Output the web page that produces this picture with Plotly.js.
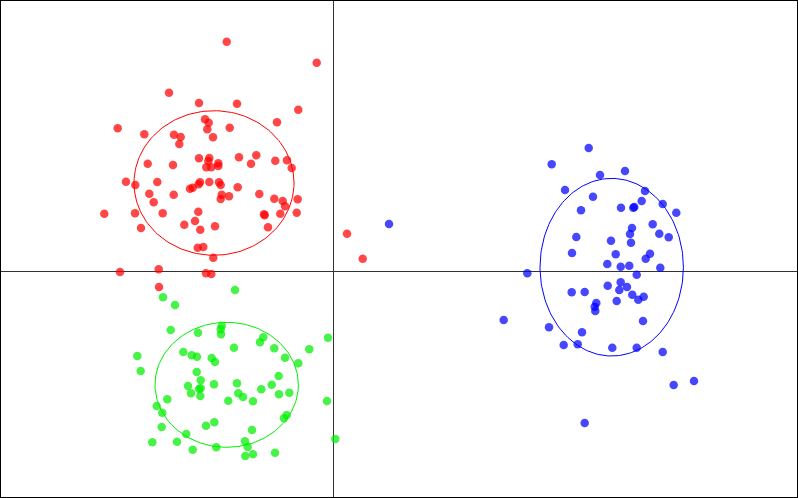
<!DOCTYPE html>
<html>
<head>
<meta charset="utf-8">
<script src="https://cdn.plot.ly/plotly-3.0.1.min.js"></script>
<style>html,body{margin:0;padding:0;background:#fff;}#chart{width:798px;height:498px;}</style>
</head>
<body>
<div id="chart"></div>
<script>
// Group 1 (red)
const redX = [-1.063,-0.163,-1.64,-1.34,-0.96,-0.347,-2.153,-1.887,-1.28,-1.243,-1.257,-1.033,-0.56,-1.59,-1.523,-1.2,-1.537,-1.34,-1.237,-1.247,-0.94,-0.767,-0.577,-0.46,-1.853,-1.60,-1.267,-1.217,-1.147,-1.147,-0.82,-0.413,-2.07,-1.977,-1.757,-1.33,-1.343,-1.237,-1.14,-1.123,-1.43,-1.403,-0.953,-1.837,-1.593,-1.113,-1.123,-1.04,-0.737,-0.587,-0.503,-0.353,-0.48,-1.793,-2.287,-1.98,-1.703,-1.347,-0.69,-0.683,-0.527,-0.363,-1.38,-1.487,-1.18,-1.327,-1.92,-0.65,-1.353,-1.297,0.14,0.297,-1.197,-2.13,-1.743,-1.27,-1.217,-1.74];
const redY = [2.293,2.083,1.783,1.68,1.673,1.613,1.427,1.367,1.517,1.483,1.417,1.433,1.487,1.363,1.34,1.337,1.27,1.127,1.13,1.10,1.137,1.157,1.103,1.107,1.073,1.06,1.037,1.037,1.077,1.05,1.073,1.03,0.893,0.86,0.89,0.887,0.867,0.89,0.887,0.86,0.823,0.833,0.837,0.773,0.763,0.763,0.72,0.747,0.77,0.723,0.70,0.717,0.647,0.687,0.573,0.577,0.577,0.593,0.567,0.557,0.573,0.583,0.50,0.463,0.447,0.413,0.43,0.437,0.233,0.24,0.373,0.123,0.133,-0.01,0.017,-0.023,-0.03,-0.16];
// Group 2 (green)
const greenX = [-1.70,-1.58,-0.98,-1.623,-1.35,-1.113,-1.123,-1.12,-1.957,-1.497,-1.413,-1.36,-1.213,-1.18,-0.99,-0.73,-0.697,-0.587,-0.48,-0.347,-0.237,-0.05,-1.923,-1.363,-1.323,-1.45,-1.34,-1.323,-1.42,-1.327,-1.19,-0.96,-0.947,-0.90,-1.047,-0.80,-0.717,-0.613,-0.543,-0.54,-0.437,-1.657,-1.763,-1.707,-0.06,-0.463,-0.49,-1.713,-1.27,-1.187,-0.81,-1.467,-1.807,-1.56,-0.88,0.023,-1.403,-1.167,-0.853,-0.58,-0.877,-0.80];
const greenY = [-0.263,-0.34,-0.19,-0.59,-0.617,-0.547,-0.583,-0.633,-0.85,-0.81,-0.843,-0.857,-0.87,-0.91,-0.767,-0.713,-0.663,-0.773,-0.867,-0.923,-0.783,-0.667,-1.00,-1.01,-1.093,-1.15,-1.18,-1.173,-1.223,-1.25,-1.133,-1.123,-1.223,-1.26,-1.297,-1.303,-1.183,-1.137,-1.05,-1.233,-1.217,-1.283,-1.35,-1.417,-1.30,-1.44,-1.473,-1.56,-1.547,-1.513,-1.59,-1.63,-1.713,-1.707,-1.703,-1.68,-1.787,-1.763,-1.76,-1.817,-1.85,-1.833];
// Group 3 (blue)
const blueX = [0.56,2.557,2.187,2.67,2.92,2.32,2.60,3.12,3.087,3.013,3.003,2.88,2.48,3.297,3.433,3.197,2.99,2.97,3.263,3.357,2.433,2.78,2.98,2.39,2.827,3.17,3.127,2.743,2.877,2.963,3.273,1.943,3.037,2.877,2.747,2.863,2.94,2.387,2.517,2.993,3.053,3.107,2.837,2.633,2.617,2.623,1.707,2.16,2.49,3.10,2.307,2.447,2.793,3.037,3.297,3.407,3.61,2.517];
const blueY = [0.47,1.23,1.067,0.96,1.00,0.81,0.743,0.80,0.70,0.64,0.633,0.633,0.607,0.67,0.583,0.467,0.43,0.37,0.373,0.337,0.34,0.303,0.283,0.18,0.167,0.173,0.123,0.07,0.043,0.053,0.033,-0.023,-0.037,-0.113,-0.147,-0.19,-0.16,-0.213,-0.21,-0.237,-0.287,-0.257,-0.30,-0.32,-0.357,-0.40,-0.49,-0.563,-0.613,-0.50,-0.74,-0.733,-0.767,-0.767,-0.81,-1.14,-1.10,-1.52];

// Ellipse parameters per group: centre and semi-axes
const groupNames = ["red", "green", "blue"];
const groupColors = ["#ff0000", "#00ee00", "#0000ff"];
const ellipseCX = [-1.19, -1.063, 2.787];
const ellipseCY = [0.88, -1.138, 0.038];
const ellipseRX = [0.80, 0.717, 0.717];
const ellipseRY = [0.723, 0.625, 0.888];

const pointsX = [redX, greenX, blueX];
const pointsY = [redY, greenY, blueY];

const traces = [];
for (let g = 0; g < 3; g++) {
  const ex = [], ey = [];
  for (let i = 0; i <= 200; i++) {
    const t = 2 * Math.PI * i / 200;
    ex.push(ellipseCX[g] + ellipseRX[g] * Math.cos(t));
    ey.push(ellipseCY[g] + ellipseRY[g] * Math.sin(t));
  }
  traces.push({x: ex, y: ey, type: "scatter", mode: "lines",
    line: {color: groupColors[g], width: 1}, name: groupNames[g] + " ellipse"});
}
for (let g = 0; g < 3; g++) {
  traces.push({x: pointsX[g], y: pointsY[g], type: "scatter", mode: "markers",
    marker: {color: groupColors[g], size: 8.5, opacity: 0.72, line: {width: 0}},
    name: groupNames[g]});
}

const axisCommon = {
  showgrid: false, showticklabels: false, ticks: "",
  zeroline: true, zerolinecolor: "#333333", zerolinewidth: 1,
  showline: true, mirror: true, linecolor: "#000000", linewidth: 2
};

const layout = {
  width: 798, height: 498,
  margin: {l: 1, r: 1, t: 1, b: 1, pad: 0},
  paper_bgcolor: "#ffffff", plot_bgcolor: "#ffffff",
  showlegend: false, hovermode: false,
  xaxis: Object.assign({range: [-3.32, 4.64]}, axisCommon),
  yaxis: Object.assign({range: [-2.26, 2.70]}, axisCommon)
};

Plotly.newPlot("chart", traces, layout, {staticPlot: true, displayModeBar: false});
</script>
</body>
</html>
